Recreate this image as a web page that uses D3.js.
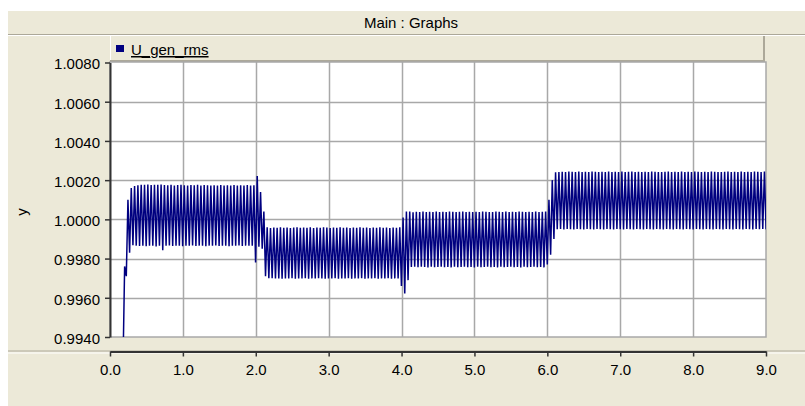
<!DOCTYPE html>
<html>
<head>
<meta charset="utf-8">
<script src="https://cdn.jsdelivr.net/npm/d3@7"></script>
<style>
  body { margin: 0; background: #fff; }
  text { font-family: "Liberation Sans", Arial, sans-serif; font-size: 15px; fill: #000; }
</style>
</head>
<body>
<script>
// Tick labels
var xTicks = [0, 1, 2, 3, 4, 5, 6, 7, 8, 9];
var yTicks = [0.9940, 0.9960, 0.9980, 1.0000, 1.0020, 1.0040, 1.0060, 1.0080];

// Signal samples (peaks and troughs), one sample every sampleStep seconds
var seriesName = "U_gen_rms";
var startTime = 0.178;
var sampleStep = 0.02274;

var startup = [0.9925, 0.9976, 0.9971, 1.0010, 0.9983];

var band1 = [
  1.00160,0.99868,1.00170,0.99866,1.00174,0.99864,1.00177,0.99866,1.00176,0.99863,
  1.00178,0.99866,1.00175,0.99865,1.00177,0.99862,1.00176,0.99866,1.00178,0.99842,
  1.00175,0.99865,1.00174,0.99867,1.00176,0.99864,1.00173,0.99866,1.00175,0.99865,
  1.00176,0.99863,1.00174,0.99866,1.00172,0.99865,1.00175,0.99867,1.00174,0.99864,
  1.00176,0.99866,1.00173,0.99865,1.00175,0.99863,1.00174,0.99866,1.00172,0.99865,
  1.00174,0.99867,1.00173,0.99864,1.00175,0.99866,1.00172,0.99865,1.00174,0.99863,
  1.00173,0.99866,1.00175,0.99865,1.00172,0.99867,1.00174,0.99864,1.00173,0.99866,
  1.00175,0.99865,1.00172,0.99866,1.00174
];

var drop1 = [0.99780, 1.00221, 0.99860, 1.00140, 0.99850, 1.00040, 0.99710, 0.99960, 0.99700];

var band2 = [
  0.99956,0.99700,0.99958,0.99698,0.99957,0.99699,0.99959,0.99697,0.99957,0.99699,
  0.99958,0.99698,0.99956,0.99700,0.99958,0.99697,0.99959,0.99699,0.99957,0.99698,
  0.99958,0.99700,0.99957,0.99697,0.99959,0.99699,0.99956,0.99698,0.99958,0.99700,
  0.99957,0.99698,0.99959,0.99697,0.99958,0.99699,0.99956,0.99698,0.99958,0.99700,
  0.99957,0.99697,0.99959,0.99699,0.99957,0.99698,0.99958,0.99700,0.99956,0.99697,
  0.99958,0.99699,0.99957,0.99698,0.99959,0.99700,0.99957,0.99697,0.99958,0.99699,
  0.99956,0.99698,0.99958,0.99700,0.99957,0.99697,0.99959,0.99699,0.99957,0.99698,
  0.99958,0.99700,0.99956,0.99697,0.99958,0.99699,0.99957,0.99698,0.99959
];

var step2 = [0.99660, 1.00010, 0.99622, 1.00040, 0.99690, 1.00040, 0.99757];

var band3 = [
  1.00036,0.99758,1.00039,0.99756,1.00038,0.99758,1.00040,0.99757,1.00038,0.99755,
  1.00039,0.99758,1.00037,0.99756,1.00040,0.99757,1.00038,0.99758,1.00039,0.99756,
  1.00038,0.99757,1.00040,0.99755,1.00039,0.99758,1.00037,0.99756,1.00039,0.99757,
  1.00040,0.99758,1.00038,0.99756,1.00039,0.99757,1.00037,0.99755,1.00039,0.99758,
  1.00038,0.99756,1.00040,0.99757,1.00039,0.99758,1.00037,0.99756,1.00038,0.99757,
  1.00040,0.99755,1.00039,0.99758,1.00038,0.99756,1.00040,0.99757,1.00037,0.99758,
  1.00039,0.99756,1.00038,0.99757,1.00040,0.99755,1.00039,0.99758,1.00038,0.99756,
  1.00039,0.99757,1.00037,0.99758,1.00040,0.99756,1.00038,0.99757,1.00039,0.99755,
  1.00040
];

var step3 = [0.99770, 1.00100, 0.99820, 1.00200, 0.99900, 1.00240, 0.99950];

var band4 = [
  1.00241,0.99951,1.00243,0.99949,1.00242,0.99951,1.00244,0.99950,1.00243,0.99948,
  1.00242,0.99951,1.00244,0.99950,1.00241,0.99949,1.00243,0.99951,1.00242,0.99950,
  1.00244,0.99949,1.00243,0.99951,1.00241,0.99950,1.00243,0.99948,1.00242,0.99951,
  1.00244,0.99950,1.00242,0.99949,1.00243,0.99951,1.00241,0.99950,1.00244,0.99949,
  1.00242,0.99951,1.00243,0.99950,1.00244,0.99948,1.00242,0.99951,1.00243,0.99950,
  1.00241,0.99949,1.00243,0.99951,1.00242,0.99950,1.00244,0.99949,1.00243,0.99951,
  1.00242,0.99950,1.00241,0.99948,1.00243,0.99951,1.00244,0.99950,1.00242,0.99949,
  1.00243,0.99951,1.00241,0.99950,1.00244,0.99949,1.00242,0.99951,1.00243,0.99950,
  1.00242,0.99948,1.00244,0.99951,1.00243,0.99950,1.00241,0.99949,1.00243,0.99951,
  1.00242,0.99950,1.00244,0.99949,1.00243,0.99951,1.00242,0.99950,1.00241,0.99948,
  1.00243,0.99951,1.00244,0.99950,1.00242,0.99949,1.00243,0.99951,1.00241,0.99950,
  1.00244,0.99949,1.00242,0.99951,1.00243,0.99950,1.00242,0.99948,1.00244,0.99951,
  1.00243,0.99950,1.00242,0.99951,1.00244,0.99949
];

window.onload = function() {
  var values = [].concat(startup, band1, drop1, band2, step2, band3, step3, band4);
  var points = values.map(function(v, i) {
    return [startTime + i * sampleStep, v];
  });
  drawChart(points);
};

function drawChart(points) {
  var width = 805;
  var height = 406;
  var beige = "#ECE9D8";
  var shadow = "#ACA899";
  var plotLeft = 110, plotRight = 766, plotTop = 62, plotBottom = 337;
  var axisY = 351.5;

  var svg = d3.select("body")
              .append("svg")
              .attr("width", width)
              .attr("height", height);

  // Window background
  svg.append("rect")
     .attr("x", 8).attr("y", 11)
     .attr("width", width - 8).attr("height", height - 11)
     .attr("fill", beige);

  // Title bar
  svg.append("line")
     .attr("x1", 8).attr("x2", width).attr("y1", 34.5).attr("y2", 34.5)
     .attr("stroke", shadow);
  svg.append("line")
     .attr("x1", 8).attr("x2", width).attr("y1", 35.5).attr("y2", 35.5)
     .attr("stroke", "#fff");
  svg.append("text")
     .text("Main : Graphs")
     .attr("x", 411).attr("y", 28)
     .attr("text-anchor", "middle");

  // Legend panel
  svg.append("rect")
     .attr("x", plotLeft).attr("y", 36)
     .attr("width", 655).attr("height", 26)
     .attr("fill", beige);
  svg.append("line")
     .attr("x1", plotLeft + 0.5).attr("x2", plotLeft + 0.5).attr("y1", 36).attr("y2", 62)
     .attr("stroke", "#fff");
  svg.append("path")
     .attr("d", "M" + 764 + ",36V61H" + plotLeft)
     .attr("fill", "none")
     .attr("stroke", shadow)
     .attr("stroke-width", 2);
  svg.append("rect")
     .attr("x", 116).attr("y", 45)
     .attr("width", 8).attr("height", 7)
     .attr("fill", "#000080");
  svg.append("text")
     .text(seriesName)
     .attr("x", 131).attr("y", 55)
     .style("text-decoration", "underline");

  // Scales
  var x = d3.scaleLinear().domain([0, 9]).range([plotLeft, plotRight]);
  var y = d3.scaleLinear().domain([0.9940, 1.0080]).range([plotBottom, plotTop + 0.5]);

  // Plot area
  svg.append("rect")
     .attr("x", plotLeft).attr("y", plotTop)
     .attr("width", plotRight - plotLeft).attr("height", plotBottom - plotTop)
     .attr("fill", "#fff")
     .attr("stroke", "#A8A8A8")
     .attr("stroke-width", 1.5);

  // Grid
  svg.append("g")
     .selectAll("line")
     .data(xTicks.slice(1, -1))
     .enter()
     .append("line")
     .attr("x1", function(d) { return Math.round(x(d)) + 0.5; })
     .attr("x2", function(d) { return Math.round(x(d)) + 0.5; })
     .attr("y1", plotTop).attr("y2", plotBottom)
     .attr("stroke", "#A8A8A8")
     .attr("stroke-width", 1.5);
  svg.append("g")
     .selectAll("line")
     .data(yTicks.slice(1, -1))
     .enter()
     .append("line")
     .attr("x1", plotLeft).attr("x2", plotRight)
     .attr("y1", function(d) { return Math.round(y(d)) + 0.5; })
     .attr("y2", function(d) { return Math.round(y(d)) + 0.5; })
     .attr("stroke", "#A8A8A8")
     .attr("stroke-width", 1.5);

  // Signal
  svg.append("clipPath")
     .attr("id", "plotClip")
     .append("rect")
     .attr("x", plotLeft).attr("y", plotTop)
     .attr("width", plotRight - plotLeft).attr("height", plotBottom - plotTop);
  var line = d3.line()
               .x(function(d) { return x(d[0]); })
               .y(function(d) { return y(d[1]); });
  svg.append("path")
     .datum(points)
     .attr("clip-path", "url(#plotClip)")
     .attr("d", line)
     .attr("fill", "none")
     .attr("stroke", "#000080")
     .attr("stroke-width", 1.5)
     .attr("stroke-linejoin", "bevel");

  // Separator above x-axis
  svg.append("line")
     .attr("x1", 8).attr("x2", width).attr("y1", axisY - 0.5).attr("y2", axisY - 0.5)
     .attr("stroke", shadow);
  svg.append("line")
     .attr("x1", 8).attr("x2", width).attr("y1", axisY + 1.5).attr("y2", axisY + 1.5)
     .attr("stroke", "#fff");

  // Y-axis
  var yAxis = d3.axisLeft(y)
                .tickValues(yTicks)
                .tickFormat(d3.format(".4f"))
                .tickSize(5)
                .tickSizeOuter(0)
                .tickPadding(5);
  var gy = svg.append("g")
              .attr("transform", "translate(" + plotLeft + ",0)")
              .call(yAxis);
  gy.select(".domain").attr("stroke", "#333").attr("stroke-width", 2);
  gy.selectAll(".tick line").attr("stroke", "#333").attr("stroke-width", 1.5);
  gy.selectAll(".tick text")
    .attr("dy", "0.42em")
    .style("font-family", "'Liberation Sans', Arial, sans-serif")
    .style("font-size", "15px");
  svg.append("text")
     .text("y")
     .attr("transform", "translate(27,212) rotate(-90)")
     .attr("text-anchor", "middle");

  // X-axis
  var xAxis = d3.axisBottom(x)
                .tickValues(xTicks)
                .tickFormat(d3.format(".1f"))
                .tickSize(5)
                .tickSizeOuter(0)
                .tickPadding(8);
  var gx = svg.append("g")
              .attr("transform", "translate(0," + axisY + ")")
              .call(xAxis);
  gx.select(".domain").attr("stroke", "#333").attr("stroke-width", 2);
  gx.selectAll(".tick line").attr("stroke", "#333").attr("stroke-width", 1.5);
  gx.selectAll(".tick text")
    .style("font-family", "'Liberation Sans', Arial, sans-serif")
    .style("font-size", "15px");
}
</script>
</body>
</html>
